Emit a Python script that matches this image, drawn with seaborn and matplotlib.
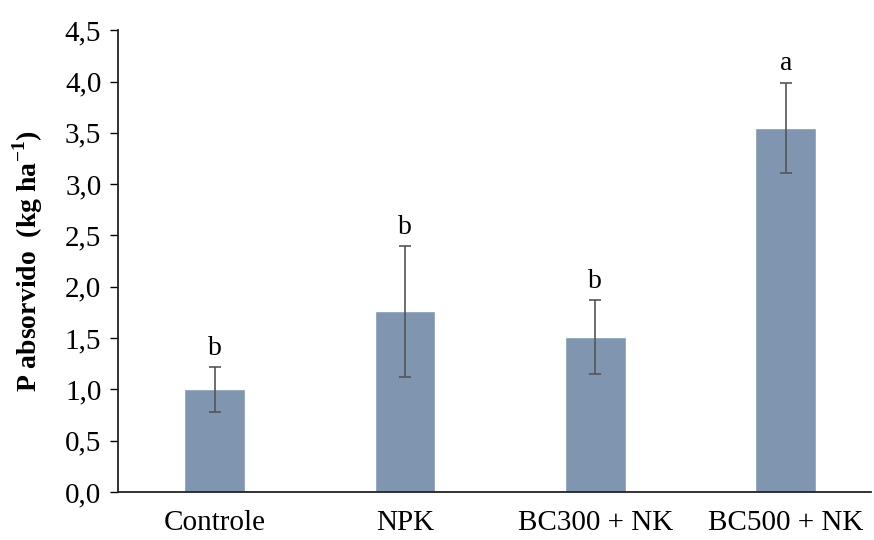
import matplotlib
matplotlib.use("Agg")
import matplotlib.pyplot as plt
import seaborn as sns
import numpy as np
import pandas as pd

tratamentos = ["Controle", "NPK", "BC300 + NK", "BC500 + NK"]
p_absorvido = [1.00, 1.76, 1.51, 3.55]
erro = [0.22, 0.64, 0.36, 0.44]
letras = ["b", "b", "b", "a"]

sns.set_style("white")
plt.rcParams["font.family"] = ["Liberation Serif", "DejaVu Serif"]
plt.rcParams["mathtext.fontset"] = "custom"
plt.rcParams["mathtext.rm"] = "Liberation Serif"
plt.rcParams["mathtext.bf"] = "Liberation Serif:bold"
plt.rcParams["text.color"] = "black"
plt.rcParams["axes.labelcolor"] = "black"
plt.rcParams["xtick.color"] = "black"
plt.rcParams["ytick.color"] = "black"

df = pd.DataFrame({"trat": tratamentos, "p": p_absorvido})

fig = plt.figure(figsize=(8.74, 5.40), dpi=100)
ax = fig.add_axes([0.135, 0.089, 0.862, 0.855])

sns.barplot(data=df, x="trat", y="p", color="#8096B0", saturation=1,
            width=0.32, errorbar=None, ax=ax)
xs = np.arange(len(tratamentos))
ax.errorbar(xs, p_absorvido, yerr=erro, fmt="none", ecolor="#555555",
            elinewidth=1.2, capsize=4, capthick=1.2)

for x, m, e, l in zip(xs, p_absorvido, erro, letras):
    ax.text(x, m + e + 0.06, l, ha="center", va="bottom", fontsize=20)

ax.set_ylim(0, 4.5)
ax.set_xlim(-0.508, 3.45)
ax.set_yticks(np.arange(0, 4.51, 0.5))
ax.set_yticklabels([f"{v:.1f}".replace(".", ",") for v in np.arange(0, 4.51, 0.5)])
ax.tick_params(axis="y", direction="out", length=6, width=1, labelsize=21, pad=6, left=True)
ax.tick_params(axis="x", length=0, labelsize=21, pad=13)
ax.set_xlabel("")
ax.set_ylabel(r"P absorvido  (kg ha$^{\mathbf{-1}}$)", fontsize=20, fontweight="bold", labelpad=14)

sns.despine(ax=ax)
for s in ["left", "bottom"]:
    ax.spines[s].set_color("#222222")
    ax.spines[s].set_linewidth(1.3)

fig.savefig("out.png", dpi=100)
